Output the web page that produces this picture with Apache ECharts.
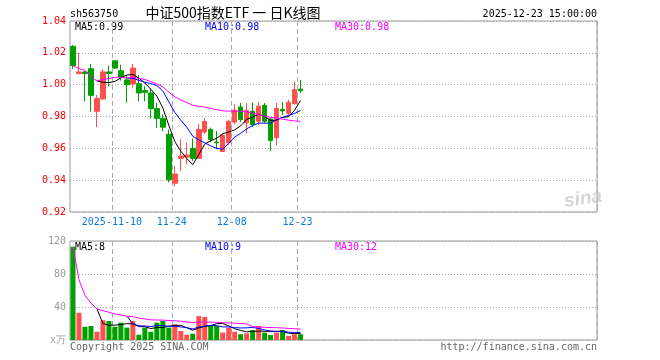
<!DOCTYPE html>
<html><head><meta charset="utf-8">
<script src="https://cdn.jsdelivr.net/npm/echarts@6/dist/echarts.min.js"></script>
<style>html,body{margin:0;padding:0;background:#fff}#c{width:660px;height:360px}</style>
</head><body><div id="c"></div>
<script>
const dates = ['2025-10-30','2025-10-31','2025-11-03','2025-11-04','2025-11-05','2025-11-06','2025-11-07',
'2025-11-10','2025-11-11','2025-11-12','2025-11-13','2025-11-14','2025-11-17','2025-11-18','2025-11-19','2025-11-20','2025-11-21',
'2025-11-24','2025-11-25','2025-11-26','2025-11-27','2025-11-28','2025-12-01','2025-12-02','2025-12-03','2025-12-04','2025-12-05',
'2025-12-08','2025-12-09','2025-12-10','2025-12-11','2025-12-12','2025-12-15','2025-12-16','2025-12-17','2025-12-18','2025-12-19',
'2025-12-22','2025-12-23'];
const openP  = [1.024,1.007,1.008,1.010,0.9833,0.991,1.008,1.015,1.0088,1.003,1.0004,1.0006,0.9963,0.9948,0.985,0.9788,0.9688,0.9381,0.9537,0.9546,0.960,0.9537,0.9702,0.9719,0.9640,0.958,0.9635,0.9765,0.986,0.976,0.9833,0.977,0.987,0.9785,0.9667,0.9845,0.982,0.988,0.9972];
const closeP = [1.012,1.008,1.007,0.9933,0.9913,1.008,1.007,1.0104,1.0048,1.000,1.0104,0.9948,0.9952,0.985,0.9788,0.9733,0.9402,0.9438,0.9552,0.9558,0.9537,0.9719,0.9769,0.9656,0.9635,0.9681,0.9769,0.984,0.978,0.9838,0.975,0.9865,0.977,0.965,0.985,0.9835,0.989,0.9969,0.9962];
const lowP   = [1.010,1.0065,0.9895,0.983,0.9733,0.9905,0.9988,1.0098,1.0025,0.9886,0.998,0.9896,0.9896,0.9787,0.9729,0.9708,0.9386,0.936,0.9458,0.950,0.952,0.9535,0.969,0.964,0.9594,0.9577,0.962,0.975,0.9765,0.9694,0.9735,0.9745,0.976,0.9583,0.962,0.981,0.9805,0.9875,0.9948];
const highP  = [1.025,1.020,1.0085,1.013,0.9935,1.0098,1.012,1.0152,1.0125,1.006,1.013,1.006,0.999,0.998,0.9885,0.9813,0.9719,0.949,0.9656,0.9635,0.966,0.9754,0.979,0.973,0.9708,0.969,0.978,0.988,0.9885,0.9885,0.9888,0.989,0.9885,0.979,0.9885,0.989,0.9905,1.002,1.003];
const volume = [113,33,16,17,10,24,23,16,21,15,23,6.4,15,10,21,23,15,19,11,6.4,7.6,29,28,17,17,9,15,10,7,8,12,17,9,6,9,12,5,7,7];
const tickDates  = ['2025-11-10','2025-11-24','2025-12-08','2025-12-23'];
const tickLabels = ['2025-11-10','11-24','12-08','12-23'];
const priceMin = 0.92, priceMax = 1.04, priceStep = 0.02;
const volMin = 0, volMax = 120, volStep = 40;
const codeText = 'sh563750';
const titleText = '中证500指数ETF 一 日K线图';
const timeText = '2025-12-23 15:00:00';
const priceMaText = ['MA5:0.99','MA10:0.98','MA30:0.98'];
const volMaText = ['MA5:8','MA10:9','MA30:12'];
const unitText = 'x万';
const copyText = 'Copyright 2025 SINA.COM';
const urlText = 'http://finance.sina.com.cn';
const SLOTS = 88;

const RED = '#ff5050', GREEN = '#00a000';
const MONO = '"DejaVu Sans Mono", monospace';

function ma(arr, n, expanding) {
  return arr.map((_, i) => {
    if (i < n - 1 && !expanding) return null;
    const s = Math.max(0, i - n + 1);
    let sum = 0;
    for (let k = s; k <= i; k++) sum += arr[k];
    return +(sum / (i - s + 1)).toFixed(5);
  });
}
const cats = dates.concat(Array.from({length: SLOTS - dates.length}, (_, i) => 'pad' + i));
const tickIdx = tickDates.map(d => dates.indexOf(d));
const kData = dates.map((d, i) => [openP[i], closeP[i], lowP[i], highP[i]]);
const volData = volume.map((v, i) => ({value: v, itemStyle: {color: closeP[i] >= openP[i] ? RED : GREEN}}));

function xAx(gi, labels) {
  return {
    type: 'category', gridIndex: gi, data: cats, boundaryGap: true,
    axisLine: {show: false}, axisTick: {show: false},
    splitLine: {show: true, interval: (i) => tickIdx.includes(i), lineStyle: {color: '#aaa', width: 1, type: [5, 3]}},
    axisLabel: labels ? {
      show: true, interval: (i) => tickIdx.includes(i), color: '#0a7bd6', fontFamily: MONO, fontSize: 10, margin: 5,
      padding: [0, 6, 0, 0],
      formatter: (v) => { const k = tickDates.indexOf(v); return k >= 0 ? tickLabels[k] : ''; }
    } : {show: false}
  };
}
function lineS(name, data, color, xi, yi) {
  return {name, type: 'line', data, xAxisIndex: xi, yAxisIndex: yi, showSymbol: false, symbol: 'none',
    lineStyle: {color, width: 1}, itemStyle: {color}, z: 5, silent: true};
}
function txt(text, x, y, fill, font, align) {
  return {type: 'text', x, y, silent: true, style: {text, fill, font, align: align || 'left', textAlign: align || 'left', verticalAlign: 'middle', textVerticalAlign: 'middle'}};
}

const chart = echarts.init(document.getElementById('c'), null, {renderer: 'canvas'});
chart.setOption({
  animation: false,
  backgroundColor: '#fff',
  grid: [
    {left: 70, top: 21, width: 527, height: 191, show: true, borderColor: '#999', borderWidth: 1, backgroundColor: 'transparent'},
    {left: 70, top: 241, width: 527, height: 99, show: true, borderColor: '#999', borderWidth: 1, backgroundColor: 'transparent'}
  ],
  xAxis: [xAx(0, true), xAx(1, false)],
  yAxis: [
    {type: 'value', gridIndex: 0, min: priceMin, max: priceMax, interval: priceStep,
      axisLine: {show: false}, axisTick: {show: false},
      splitLine: {lineStyle: {color: '#aaa', width: 1, type: [1, 2]}},
      axisLabel: {color: '#ff0000', fontFamily: MONO, fontSize: 10, margin: 4, formatter: (v) => v.toFixed(2)}},
    {type: 'value', gridIndex: 1, min: volMin, max: volMax, interval: volStep,
      axisLine: {show: false}, axisTick: {show: false},
      splitLine: {lineStyle: {color: '#aaa', width: 1, type: [1, 2]}},
      axisLabel: {color: '#999', fontFamily: MONO, fontSize: 10, margin: 4, formatter: (v) => v === 0 ? unitText : String(v)}}
  ],
  series: [
    {type: 'candlestick', data: kData, xAxisIndex: 0, yAxisIndex: 0, barWidth: 5,
      itemStyle: {color: RED, color0: GREEN, borderColor: RED, borderColor0: GREEN, borderWidth: 1}, silent: true},
    lineS('MA5', ma(closeP, 5, false), '#000000', 0, 0),
    lineS('MA10', ma(closeP, 10, false), '#0000ff', 0, 0),
    lineS('MA30', ma(closeP, 30, true), '#ff00ff', 0, 0),
    {type: 'bar', data: volData, xAxisIndex: 1, yAxisIndex: 1, barWidth: 5, silent: true},
    lineS('VMA5', ma(volume, 5, false), '#000000', 1, 1),
    lineS('VMA10', ma(volume, 10, false), '#0000ff', 1, 1),
    lineS('VMA30', ma(volume, 30, true), '#ff00ff', 1, 1)
  ],
  graphic: [
    txt(codeText, 70, 14, '#000', '10px ' + MONO),
    txt(titleText, 233, 13, '#000', '14px "Noto Sans CJK SC"', 'center'),
    txt(timeText, 597, 14, '#000', '10px ' + MONO, 'right'),
    txt(priceMaText[0], 75, 27, '#000', '10px ' + MONO),
    txt(priceMaText[1], 205, 27, '#0000ff', '10px ' + MONO),
    txt(priceMaText[2], 335, 27, '#ff00ff', '10px ' + MONO),
    txt(volMaText[0], 75, 247, '#000', '10px ' + MONO),
    txt(volMaText[1], 205, 247, '#0000ff', '10px ' + MONO),
    txt(volMaText[2], 335, 247, '#ff00ff', '10px ' + MONO),
    txt(copyText, 70, 347, '#666', '10px ' + MONO),
    txt(urlText, 597, 347, '#666', '10px ' + MONO, 'right'),
    {type: 'text', x: 583, y: 199, rotation: 0.15, silent: true,
      style: {text: 'sina', fill: '#d6d6d6', font: 'italic bold 19px "Liberation Sans"', align: 'center', textAlign: 'center', verticalAlign: 'middle', textVerticalAlign: 'middle'}}
  ]
});
</script></body></html>
